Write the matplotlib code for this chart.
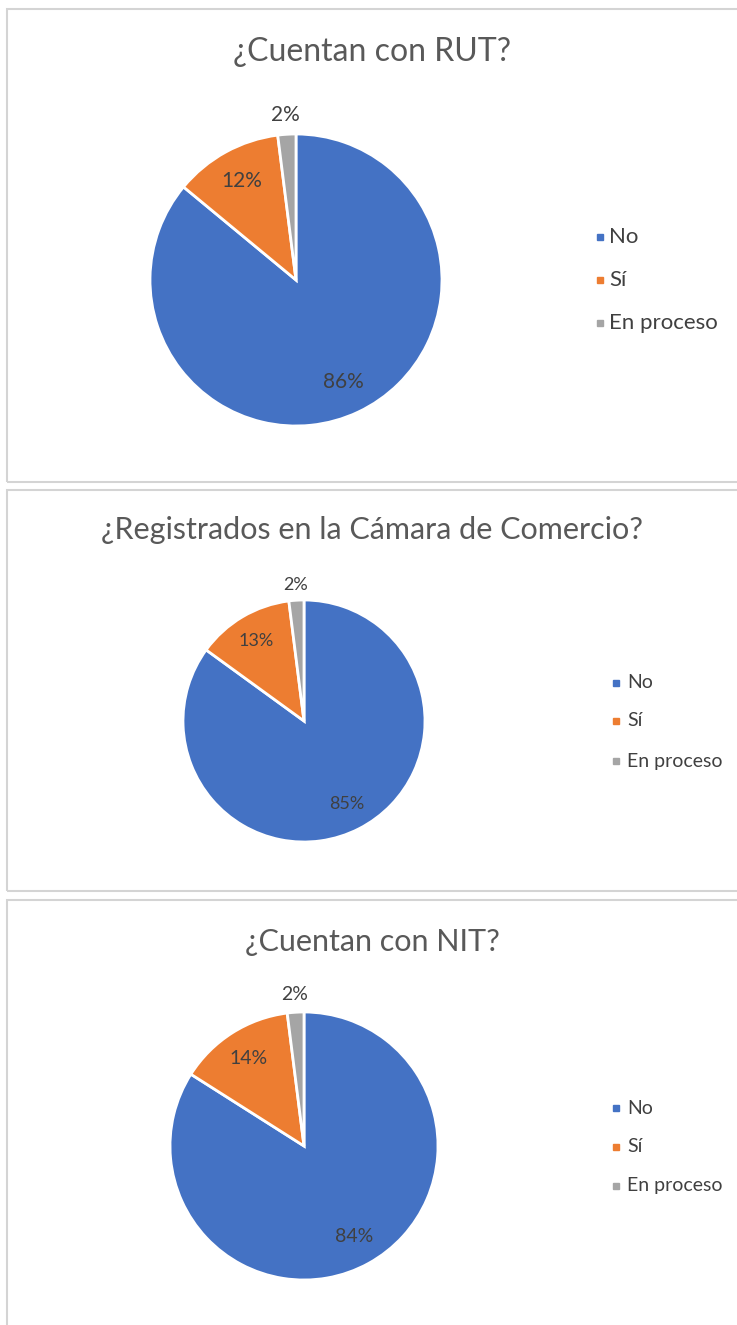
import matplotlib.pyplot as plt
from matplotlib.patches import Rectangle
from matplotlib.lines import Line2D
import numpy as np

plt.rcParams['font.family'] = ['Lato', 'DejaVu Sans']

W, H = 737, 1325

categories = ['No', 'Sí', 'En proceso']
colors = ['#4472C4', '#ED7D31', '#A5A5A5']

titles = ['¿Cuentan con RUT?', '¿Registrados en la Cámara de Comercio?', '¿Cuentan con NIT?']
rut = [86, 12, 2]
camara = [85, 13, 2]
nit = [84, 14, 2]

# layout in pixels: panel box (top, bottom), pie centre, radius, title y, legend
panels = [
    dict(box=(9, 482), cx=296, cy=280, r=146, ty=52, tfs=23, lfs=15, gfs=16,
         sqx=600, tx=609, leg=(237, 280, 323)),
    dict(box=(490, 891), cx=304, cy=721, r=121, ty=530, tfs=22, lfs=13, gfs=14,
         sqx=616, tx=627, leg=(683, 721, 761)),
    dict(box=(900, 1340), cx=304, cy=1146, r=134, ty=942, tfs=22, lfs=14, gfs=14,
         sqx=616, tx=627, leg=(1108, 1147, 1186)),
]

fig = plt.figure(figsize=(W / 100, H / 100), dpi=100)

def fx(x):
    return x / W

def fy(y):
    return 1 - y / H

for title, vals, p in zip(titles, [rut, camara, nit], panels):
    top, bot = p['box']
    fig.patches.append(Rectangle((fx(7), fy(bot)), fx(W + 20) - fx(7), fy(top) - fy(bot),
                                 transform=fig.transFigure, fill=False,
                                 edgecolor='#d4d4d4', linewidth=1.5))
    fig.text(fx(372), fy(p['ty']), title, ha='center', va='center',
             fontsize=p['tfs'], color='#595959')

    r = p['r']
    ax = fig.add_axes([fx(p['cx'] - r), fy(p['cy'] + r), 2 * r / W, 2 * r / H])
    wedges, _ = ax.pie(vals, colors=colors, startangle=90, counterclock=False,
                       wedgeprops=dict(edgecolor='white', linewidth=2))
    ax.set_xlim(-1, 1)
    ax.set_ylim(-1, 1)
    ax.set_aspect('equal')
    ax.axis('off')

    for w, v in zip(wedges, vals):
        ang = np.deg2rad((w.theta1 + w.theta2) / 2)
        d = 1.13 if v < 5 else 0.77
        ax.text(d * np.cos(ang), d * np.sin(ang), f'{v}%', ha='center', va='center',
                fontsize=p['lfs'], color='#404040')

    for yy, name, c in zip(p['leg'], categories, colors):
        fig.add_artist(Line2D([fx(p['sqx'])], [fy(yy)], marker='s', markersize=5,
                              color=c, linestyle='none', transform=fig.transFigure))
        fig.text(fx(p['tx']), fy(yy), name, ha='left', va='center', fontsize=p['gfs'],
                 color='#404040')

fig.savefig('out.png', dpi=100)
